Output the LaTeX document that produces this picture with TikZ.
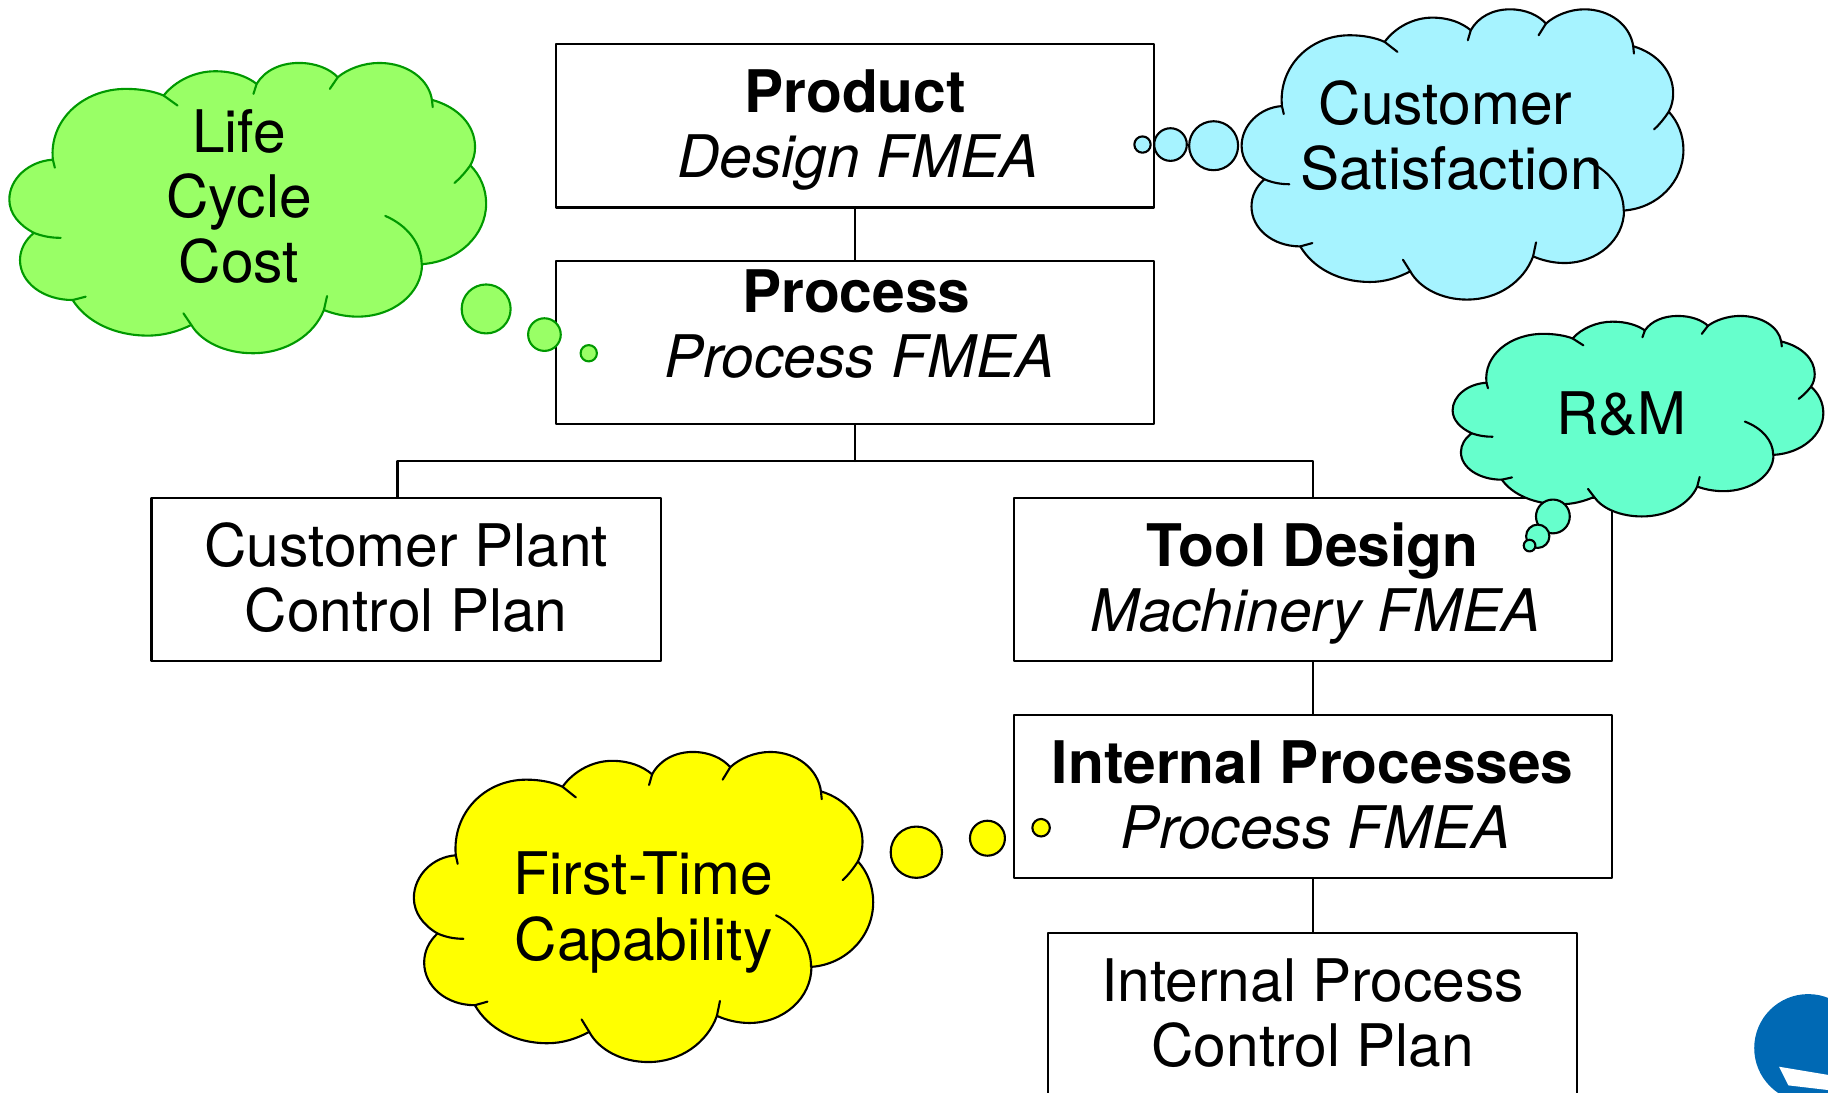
\documentclass[tikz,border=0pt]{standalone}
\usepackage{fontspec}
\setmainfont{TeX Gyre Heros}
\usepackage{tikz}
\definecolor{lifegreen}{HTML}{99FF66}
\definecolor{lifeline}{HTML}{009900}
\definecolor{custblue}{HTML}{A6F3FF}
\definecolor{rmteal}{HTML}{66FFCC}
\definecolor{firstyellow}{HTML}{FFFF00}
\definecolor{logoblue}{HTML}{0069B4}

% italic second line, a little to the right
\newcommand{\fmealine}[1]{\kern0.06cm\textit{#1}}

% one cloud, drawn in its own frame and fitted to the box x, y, w, h
\newcommand{\thoughtcloud}[5]{%
  \begin{scope}[shift={(#1,#2)}, xscale=#3/1205, yscale=#4/873, shift={(-25,-67)}]
    \draw[#5] (135,358) .. controls (125,240) and (210,145) .. (320,145)
      .. controls (355,145) and (390,152) .. (415,165)
      .. controls (445,120) and (495,92) .. (545,92)
      .. controls (590,92) and (625,107) .. (650,130)
      .. controls (670,90) and (710,67) .. (757,67)
      .. controls (800,67) and (835,85) .. (855,110)
      .. controls (880,85) and (920,67) .. (960,67)
      .. controls (1030,67) and (1085,115) .. (1093,178)
      .. controls (1160,200) and (1202,255) .. (1202,320)
      .. controls (1202,340) and (1198,358) .. (1190,375)
      .. controls (1215,405) and (1230,445) .. (1230,490)
      .. controls (1230,585) and (1160,665) .. (1068,672)
      .. controls (1068,760) and (995,830) .. (905,830)
      .. controls (875,830) and (845,822) .. (820,810)
      .. controls (795,885) and (725,940) .. (640,940)
      .. controls (570,940) and (510,905) .. (485,855)
      .. controls (450,875) and (415,887) .. (375,887)
      .. controls (290,887) and (220,845) .. (185,780)
      .. controls (110,780) and (52,727) .. (52,660)
      .. controls (52,628) and (65,600) .. (87,578)
      .. controls (50,555) and (25,520) .. (25,478)
      .. controls (25,415) and (75,362) .. (135,358) -- cycle;
    % the short inner strokes
    \draw[#5, fill=none] (415,165) -- (450,195);
    \draw[#5, fill=none] (650,130) -- (642,160);
    \draw[#5, fill=none] (855,110) -- (835,145);
    \draw[#5, fill=none] (1093,178) -- (1095,200);
    \draw[#5, fill=none] (1190,375) .. controls (1178,395) and (1165,413) .. (1150,428);
    \draw[#5, fill=none] (975,527) .. controls (1030,555) and (1067,610) .. (1067,672);
    \draw[#5, fill=none] (828,768) -- (820,810);
    \draw[#5, fill=none] (485,855) -- (465,820);
    \draw[#5, fill=none] (185,780) -- (218,770);
    \draw[#5, fill=none] (87,578) .. controls (108,588) and (130,593) .. (155,593);
    \draw[#5, fill=none] (135,358) -- (140,382);
  \end{scope}}

\tikzset{
  fmeatext/.style={inner sep=0pt, align=center, font=\fontsize{16.7}{18.5}\selectfont,
    execute at begin node=\rule{0pt}{33.5pt}, execute at end node=\rule[-4pt]{0pt}{4pt}},
  fmeabox/.style={fmeatext, draw=black, fill=white, line width=0.6pt, minimum width=#1, minimum height=1.632cm},
  link/.style={line width=0.6pt},
  lifecloud/.style={fill=lifegreen, draw=lifeline, line width=0.6pt},
  custcloud/.style={fill=custblue, draw=black, line width=0.6pt},
  rmcloud/.style={fill=rmteal, draw=black, line width=0.6pt},
  firstcloud/.style={fill=firstyellow, draw=black, line width=0.6pt},
}

\begin{document}
\begin{tikzpicture}[x=0.011658cm, y=-0.011658cm, line cap=round, line join=round]
  \useasboundingbox (0,0) rectangle (1568,937);
  \clip (0,0) rectangle (1568,937);

  % boxes
  \node[fmeabox=5.98cm] (product) at (733.5,108) {\textbf{Product}\\\fmealine{Design FMEA}};
  \node[fmeabox=5.98cm] (process) at (733.5,294) {};
  \node[fmeatext] (processtext) at (734.5,279) {\textbf{Process}\\\fmealine{Process FMEA}};
  \node[fmeabox=5.095cm] (plant) at (348.5,497) {Customer Plant\\Control Plan};
  \node[fmeabox=5.98cm] (tool) at (1126,497) {\textbf{Tool Design}\\\fmealine{Machinery FMEA}};
  \node[fmeabox=5.98cm] (internal) at (1126,683) {\textbf{Internal Processes}\\\fmealine{Process FMEA}};
  \node[fmeabox=5.293cm] (ipcp) at (1126,870) {Internal Process\\Control Plan};

  % connectors
  \coordinate (bus) at (733.5,395.5);
  \coordinate (planttop) at (341,427);
  \draw[link] (product) -- (process);
  \draw[link] (process) -- (bus);
  \draw[link] (planttop) |- (bus) -| (tool.north);
  \draw[link] (tool) -- (internal);
  \draw[link] (internal) -- (ipcp);

  % life cycle cloud
  \thoughtcloud{8}{54}{409}{249}{lifecloud}
  \draw[lifecloud] (417,265) ellipse [x radius=21, y radius=21];
  \draw[lifecloud] (467,287) ellipse [x radius=14, y radius=14];
  \draw[lifecloud] (505,303) ellipse [x radius=7, y radius=7];
  \node[fmeatext] (lifetext) at (205,174) {Life\\Cycle\\Cost};

  % customer cloud
  \thoughtcloud{1065}{8}{379}{249}{custcloud}
  \draw[custcloud] (1041,125) ellipse [x radius=21, y radius=21];
  \draw[custcloud] (1004,124) ellipse [x radius=14, y radius=14];
  \draw[custcloud] (980,124) ellipse [x radius=7, y radius=7];
  \node[fmeatext] (custtext) at (1245,118) {Customer\kern0.12cm\\Satisfaction};

  % R&M cloud
  \thoughtcloud{1246}{271}{318}{172}{rmcloud}
  \draw[rmcloud] (1332,443) ellipse [x radius=14.5, y radius=14.5];
  \draw[rmcloud] (1319,460) ellipse [x radius=10, y radius=10];
  \draw[rmcloud] (1312,468) ellipse [x radius=5, y radius=5];
  \node[fmeatext] (rmtext) at (1391,328) {R\&M};

  % first time cloud
  \thoughtcloud{355}{645}{394}{266}{firstcloud}
  \draw[firstcloud] (786,731) ellipse [x radius=22, y radius=22];
  \draw[firstcloud] (847,719) ellipse [x radius=15, y radius=15];
  \draw[firstcloud] (893,710) ellipse [x radius=7.5, y radius=7.5];
  \node[fmeatext] (firsttext) at (552,779) {First-Time\\Capability};

  % logo in the corner
  \fill[logoblue] (1551,899) circle [radius=46.3];
  \fill[white] (1526,915) -- (1568,922) -- (1568,935) -- (1534,931) -- cycle;
\end{tikzpicture}
\end{document}
